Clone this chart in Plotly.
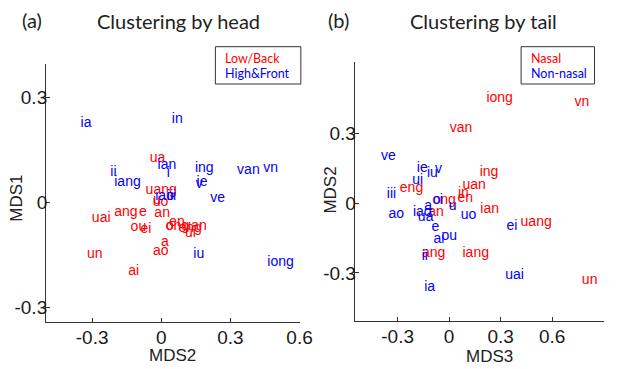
import plotly.graph_objects as go

# ---------------- Panel (a): clustering by head (x = MDS2, y = MDS1) ----------------
a_low_labels = ["ua", "uang", "u", "uo", "ang", "e", "an", "uai", "ou", "ei", "en", "o", "ong",
                "eng", "uan", "ui", "a", "ao", "un", "ai"]
a_low_x = [-0.050, -0.068, -0.036, -0.037, -0.204, -0.097, -0.030, -0.301, -0.133, -0.090, 0.034, 0.020, 0.019,
           0.075, 0.096, 0.103, -0.001, -0.036, -0.322, -0.143]
a_low_y = [0.125, 0.033, 0.006, -0.001, -0.030, -0.030, -0.031, -0.046, -0.071, -0.077, -0.057, -0.068, -0.070,
           -0.074, -0.070, -0.089, -0.115, -0.141, -0.149, -0.198]

a_high_labels = ["ia", "in", "ian", "i", "ii", "iang", "ing", "v", "ie", "van", "vn", "ve", "iao", "iii",
                 "iu", "iong"]
a_high_x = [-0.350, 0.046, -0.016, 0.024, -0.221, -0.204, 0.146, 0.150, 0.153, 0.329, 0.443, 0.213, -0.026, 0.024,
            0.139, 0.460]
a_high_y = [0.224, 0.237, 0.106, 0.083, 0.085, 0.056, 0.095, 0.052, 0.055, 0.091, 0.097, 0.011, 0.016, 0.016,
            -0.150, -0.171]

# ---------------- Panel (b): clustering by tail (x = MDS3, y = MDS2) ----------------
b_nasal_labels = ["iong", "vn", "van", "ing", "eng", "uan", "in", "en", "ong", "an", "ian", "uang",
                  "ang", "iang", "un"]
b_nasal_x = [0.217, 0.730, 0.003, 0.178, -0.287, 0.078, 0.051, 0.049, -0.097, -0.122, 0.182, 0.416,
             -0.158, 0.078, 0.773]
b_nasal_y = [0.450, 0.434, 0.323, 0.134, 0.062, 0.078, 0.040, 0.019, 0.011, -0.040, -0.026, -0.082,
             -0.217, -0.217, -0.334]

b_non_labels = ["ve", "ie", "iu", "v", "ui", "iii", "o", "i", "u", "a", "iao", "ua", "ao", "uo", "ei",
                "e", "ai", "ou", "ii", "uai", "ia"]
b_non_x = [-0.397, -0.188, -0.129, -0.082, -0.215, -0.363, -0.095, -0.054, -0.002, -0.145, -0.211, -0.182,
           -0.353, 0.068, 0.334, -0.103, -0.091, -0.044, -0.160, 0.327, -0.145]
b_non_y = [0.201, 0.151, 0.129, 0.144, 0.096, 0.039, 0.012, 0.014, -0.015, -0.012, -0.040, -0.063,
           -0.049, -0.053, -0.101, -0.103, -0.155, -0.144, -0.230, -0.312, -0.362]

tick_vals_x = [-0.3, 0, 0.3, 0.6]
tick_text_x = ["-0.3", "0", "0.3", "0.6"]
tick_vals_y = [-0.3, 0, 0.3]
tick_text_y = ["-0.3", "0", "0.3"]

RED = "#ff0000"
BLUE = "#0000ff"
W, H = 618, 369
LABEL_FONT = "Liberation Sans, Arial, sans-serif"
TITLE_FONT = "Lato, sans-serif"


def px(x):
    return x / W


def py(y):
    return 1 - y / H


fig = go.Figure()


def add_text(labels, xs, ys, color, xa, ya):
    fig.add_trace(go.Scatter(
        x=xs, y=ys, text=labels, mode="text", textposition="middle right",
        textfont=dict(color=color, size=14, family=LABEL_FONT),
        xaxis=xa, yaxis=ya, cliponaxis=False, hoverinfo="skip", showlegend=False))


add_text(a_low_labels, a_low_x, a_low_y, RED, "x", "y")
add_text(a_high_labels, a_high_x, a_high_y, BLUE, "x", "y")
add_text(b_nasal_labels, b_nasal_x, b_nasal_y, RED, "x2", "y2")
add_text(b_non_labels, b_non_x, b_non_y, BLUE, "x2", "y2")

axis_common = dict(showline=True, linecolor="#333333", linewidth=1, ticks="inside", ticklen=4,
                   tickcolor="#333333", showgrid=False, zeroline=False, mirror=False,
                   tickfont=dict(size=19, family=LABEL_FONT, color="#1a1a1a"))

fig.update_layout(
    width=W, height=H, margin=dict(l=0, r=0, t=0, b=0),
    paper_bgcolor="white", plot_bgcolor="white", showlegend=False,
    xaxis=dict(domain=[px(47), px(306)], range=[-0.5, 0.6], anchor="y", ticklabelstandoff=-2,
               tickvals=tick_vals_x, ticktext=tick_text_x, **axis_common),
    yaxis=dict(domain=[py(322), py(64.3)], range=[-0.342, 0.394], anchor="x", ticklabelstandoff=-6,
               tickvals=tick_vals_y, ticktext=tick_text_y, **axis_common),
    xaxis2=dict(domain=[px(362.3), px(617)], range=[-0.55, 0.902], anchor="y2", ticklabelstandoff=-2,
                tickvals=tick_vals_x, ticktext=tick_text_x, **axis_common),
    yaxis2=dict(domain=[py(320.7), py(61.7)], range=[-0.506, 0.610], anchor="x2", ticklabelstandoff=-6,
                tickvals=tick_vals_y, ticktext=tick_text_y, **axis_common),
)

annots = []


def note(text, x, y, size, family, color="#222222", xanchor="center", angle=0):
    annots.append(dict(text=text, x=px(x), y=py(y), xref="paper", yref="paper",
                       showarrow=False, xanchor=xanchor, yanchor="middle", textangle=angle,
                       font=dict(size=size, family=family, color=color)))


# panel letters and titles
note("(a)", 33, 20, 20, TITLE_FONT)
note("Clustering by head", 97.3, 21, 20, TITLE_FONT, xanchor="left")
note("(b)", 346, 20, 20, TITLE_FONT)
note("Clustering by tail", 416.3, 21, 20, TITLE_FONT, xanchor="left")

# axis titles
note("MDS2", 176.7, 355, 17, LABEL_FONT)
note("MDS1", 16, 198, 17, LABEL_FONT, angle=-90)
note("MDS3", 500, 356, 17, LABEL_FONT)
note("MDS2", 336.7, 190, 17, LABEL_FONT, angle=-90)

# legend texts
note("Low/Back", 227.7, 58.3, 12.5, TITLE_FONT, color=RED, xanchor="left")
note("High&amp;Front", 227.7, 73.3, 12.5, TITLE_FONT, color=BLUE, xanchor="left")
note("Nasal", 540.3, 58.3, 12.5, TITLE_FONT, color=RED, xanchor="left")
note("Non-nasal", 540.3, 73.3, 12.5, TITLE_FONT, color=BLUE, xanchor="left")

fig.update_layout(annotations=annots)

shapes = [
    dict(type="rect", xref="paper", yref="paper", x0=px(220), x1=px(307.3), y0=py(84), y1=py(46.7),
         line=dict(color="#333333", width=1), fillcolor="rgba(0,0,0,0)"),
    dict(type="rect", xref="paper", yref="paper", x0=px(532.3), x1=px(607.3), y0=py(84), y1=py(46.7),
         line=dict(color="#333333", width=1), fillcolor="rgba(0,0,0,0)"),
]
fig.update_layout(shapes=shapes)

fig.write_html("out.html", config={"responsive": False})

# keep the page exactly the size of the figure (no margins / scrollbars)
with open("out.html", "r", encoding="utf-8") as f:
    html = f.read()
style = "<style>html,body{margin:0;padding:0;overflow:hidden;}</style>"
html = html.replace("<head>", "<head>" + style, 1)
with open("out.html", "w", encoding="utf-8") as f:
    f.write(html)
